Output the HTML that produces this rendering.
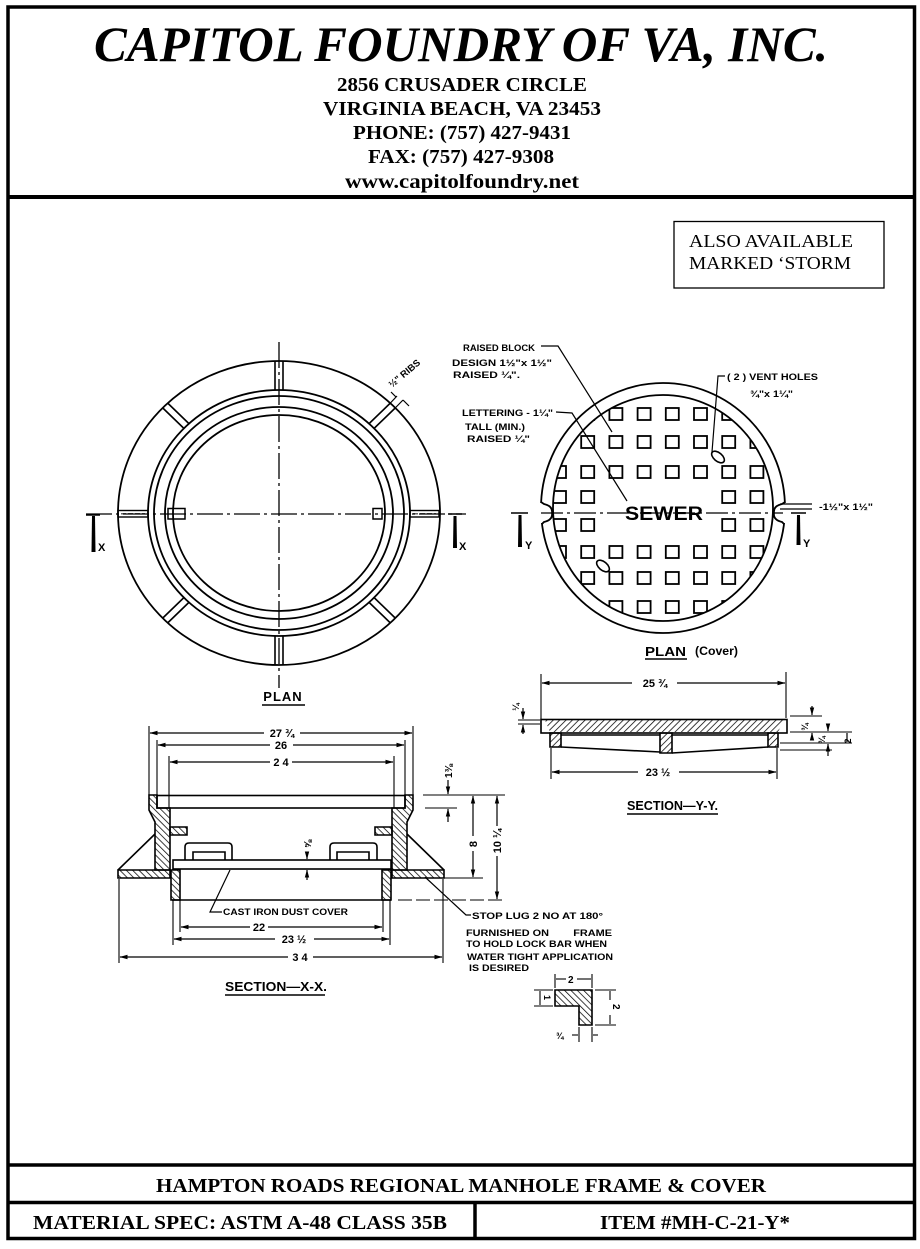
<!DOCTYPE html>
<html><head><meta charset="utf-8">
<style>
html,body{margin:0;padding:0;background:#fff;}
svg{display:block;}
.s{font-family:"Liberation Serif",serif;}
.d{font-family:"Liberation Sans",sans-serif;font-weight:bold;}
</style></head><body>
<svg width="920" height="1249" viewBox="0 0 920 1249" xmlns="http://www.w3.org/2000/svg">
<defs>
<pattern id="hb" patternUnits="userSpaceOnUse" width="4.5" height="4.5" patternTransform="rotate(-45)"><line x1="0" y1="0" x2="0" y2="4.5" stroke="#000" stroke-width="1.5"/></pattern>
<pattern id="hf" patternUnits="userSpaceOnUse" width="4.5" height="4.5" patternTransform="rotate(45)"><line x1="0" y1="0" x2="0" y2="4.5" stroke="#000" stroke-width="1.5"/></pattern>
<marker id="ar" markerWidth="8" markerHeight="6" refX="7.5" refY="3" orient="auto" markerUnits="userSpaceOnUse"><path d="M0,0.8 L8,3 L0,5.2Z" fill="#000"/></marker>
<clipPath id="cc"><ellipse cx="663" cy="508" rx="110" ry="113"/></clipPath>
</defs>

<!-- frame -->
<rect x="8" y="7" width="906.5" height="1231.5" fill="none" stroke="#000" stroke-width="3.5"/>
<line x1="8" y1="197" x2="914.5" y2="197" stroke="#000" stroke-width="4"/>
<line x1="8" y1="1165" x2="914.5" y2="1165" stroke="#000" stroke-width="3.5"/>
<line x1="8" y1="1202.5" x2="914.5" y2="1202.5" stroke="#000" stroke-width="3.5"/>
<line x1="475" y1="1202" x2="475" y2="1238" stroke="#000" stroke-width="3.5"/>

<!-- header -->
<g class="s" fill="#000" text-anchor="middle" font-weight="bold">
<text x="461" y="61" font-size="50" font-style="italic" textLength="734" lengthAdjust="spacingAndGlyphs">CAPITOL FOUNDRY OF VA, INC.</text>
<text x="462" y="91" font-size="20" textLength="250" lengthAdjust="spacingAndGlyphs">2856 CRUSADER CIRCLE</text>
<text x="462" y="115" font-size="20" textLength="278" lengthAdjust="spacingAndGlyphs">VIRGINIA BEACH, VA 23453</text>
<text x="462" y="139" font-size="20" textLength="218" lengthAdjust="spacingAndGlyphs">PHONE: (757) 427-9431</text>
<text x="461" y="163" font-size="20" textLength="186" lengthAdjust="spacingAndGlyphs">FAX: (757) 427-9308</text>
<text x="462" y="188" font-size="20" textLength="234" lengthAdjust="spacingAndGlyphs">www.capitolfoundry.net</text>
</g>

<!-- also available box -->
<rect x="674" y="221.5" width="210" height="66.5" fill="none" stroke="#000" stroke-width="1.3"/>
<g class="s" font-size="18" fill="#000">
<text x="689" y="247" textLength="164" lengthAdjust="spacingAndGlyphs">ALSO AVAILABLE</text>
<text x="689" y="269" textLength="162" lengthAdjust="spacingAndGlyphs">MARKED ‘STORM</text>
</g>

<!-- footer -->
<g class="s" font-weight="bold" fill="#000" text-anchor="middle" font-size="20">
<text x="461" y="1192" textLength="610" lengthAdjust="spacingAndGlyphs">HAMPTON ROADS REGIONAL MANHOLE FRAME &amp; COVER</text>
<text x="240" y="1229" textLength="414" lengthAdjust="spacingAndGlyphs">MATERIAL SPEC:  ASTM A-48 CLASS 35B</text>
<text x="695" y="1229" textLength="190" lengthAdjust="spacingAndGlyphs">ITEM #MH-C-21-Y*</text>
</g>

<!-- ===== LEFT PLAN ===== -->
<g fill="none" stroke="#000" stroke-width="1.8">
<ellipse cx="279" cy="513" rx="161" ry="152"/>
<ellipse cx="279" cy="513" rx="131" ry="123"/>
<ellipse cx="279" cy="513" rx="125" ry="117"/>
<ellipse cx="279" cy="513" rx="114" ry="106"/>
<ellipse cx="279" cy="513" rx="106" ry="98"/>
</g>
<g fill="none" stroke="#000" stroke-width="1.6">
<line x1="369.2" y1="423.5" x2="390.4" y2="403"/><line x1="374" y1="428.5" x2="395.2" y2="408"/>
<line x1="188.8" y1="423.5" x2="167.6" y2="403"/><line x1="184" y1="428.5" x2="162.8" y2="408"/>
<line x1="188.8" y1="602.5" x2="167.6" y2="623"/><line x1="184" y1="597.5" x2="162.8" y2="618"/>
<line x1="369.2" y1="602.5" x2="390.4" y2="623"/><line x1="374" y1="597.5" x2="395.2" y2="618"/>
<line x1="275" y1="361" x2="275" y2="390"/><line x1="283" y1="361" x2="283" y2="390"/>
<line x1="275" y1="636" x2="275" y2="665"/><line x1="283" y1="636" x2="283" y2="665"/>
<rect x="118" y="510.5" width="30" height="6.5" stroke-width="1.4"/>
<rect x="410" y="510.5" width="29" height="6.5" stroke-width="1.4"/>
<rect x="168" y="508.5" width="17" height="10.5" stroke-width="1.5"/>
<rect x="373" y="508.5" width="9" height="10.5" stroke-width="1.5"/>
</g>
<line x1="121" y1="513.8" x2="145" y2="513.8" stroke="#666" stroke-width="1.5" stroke-dasharray="5 2"/>
<line x1="413" y1="513.8" x2="436" y2="513.8" stroke="#666" stroke-width="1.5" stroke-dasharray="5 2"/>
<!-- centerlines -->
<g stroke="#000" stroke-width="1.3" fill="none">
<line x1="86" y1="514" x2="466" y2="514" stroke-dasharray="26 4 3 4"/>
<line x1="279" y1="342" x2="279" y2="688" stroke-dasharray="26 4 3 4"/>
</g>
<!-- X markers -->
<g fill="#000">
<line x1="86" y1="515" x2="100" y2="515" stroke="#000" stroke-width="1.5"/>
<path d="M92,516 L95,516 L95.5,552 L91.5,552Z"/>
<line x1="448" y1="514" x2="462" y2="514" stroke="#000" stroke-width="1.5"/>
<path d="M453.5,516 L456.5,516 L457,548 L453,548Z"/>
</g>
<g class="d" font-size="11" fill="#000">
<text x="98" y="551">X</text>
<text x="459" y="550">X</text>
</g>
<!-- ribs label -->
<g stroke="#000" stroke-width="1.2" fill="none">
<line x1="390.4" y1="403" x2="397" y2="396"/>
<line x1="395.2" y1="408" x2="403" y2="400"/>
<line x1="391" y1="392" x2="396" y2="397"/>
<line x1="403" y1="400" x2="409" y2="406"/>
</g>
<text class="d" font-size="9.5" fill="#000" transform="translate(392,388) rotate(-40)">½" RIBS</text>
<!-- PLAN label -->
<text class="d" x="283" y="701" font-size="13" text-anchor="middle" fill="#000" letter-spacing="1">PLAN</text>
<line x1="262" y1="705" x2="305" y2="705" stroke="#000" stroke-width="1.5"/>

<!-- ===== RIGHT PLAN (COVER) ===== -->
<g fill="none" stroke="#000" stroke-width="1.8">
<ellipse cx="663" cy="508" rx="122" ry="125"/>
<ellipse cx="663" cy="508" rx="110" ry="113"/>
</g>
<!-- notches -->
<rect x="537" y="503" width="10" height="20" fill="#fff"/>
<rect x="779" y="503" width="10" height="20" fill="#fff"/>
<path d="M541,502 L544,504 Q553,506 552,513 Q553,520 544,522 L542,524" fill="none" stroke="#000" stroke-width="1.8"/>
<path d="M785,502 L782,504 Q773,506 774,513 Q773,520 782,522 L784,524" fill="none" stroke="#000" stroke-width="1.8"/>
<!-- squares -->
<g clip-path="url(#cc)" fill="none" stroke="#000" stroke-width="1.8">
<!-- row 408 -->
<rect x="553" y="408" width="13" height="12"/><rect x="581.2" y="408" width="13" height="12"/><rect x="609.4" y="408" width="13" height="12"/><rect x="637.6" y="408" width="13" height="12"/><rect x="665.8" y="408" width="13" height="12"/><rect x="694" y="408" width="13" height="12"/><rect x="722.2" y="408" width="13" height="12"/><rect x="750.4" y="408" width="13" height="12"/>
<!-- row 436 -->
<rect x="553" y="436" width="13" height="12"/><rect x="581.2" y="436" width="13" height="12"/><rect x="609.4" y="436" width="13" height="12"/><rect x="637.6" y="436" width="13" height="12"/><rect x="665.8" y="436" width="13" height="12"/><rect x="694" y="436" width="13" height="12"/><rect x="722.2" y="436" width="13" height="12"/><rect x="750.4" y="436" width="13" height="12"/>
<!-- row 466 -->
<rect x="553" y="466" width="13" height="12"/><rect x="581.2" y="466" width="13" height="12"/><rect x="609.4" y="466" width="13" height="12"/><rect x="637.6" y="466" width="13" height="12"/><rect x="665.8" y="466" width="13" height="12"/><rect x="694" y="466" width="13" height="12"/><rect x="722.2" y="466" width="13" height="12"/><rect x="750.4" y="466" width="13" height="12"/>
<!-- row 491 -->
<rect x="553" y="491" width="13" height="12"/><rect x="581.2" y="491" width="13" height="12"/><rect x="722.2" y="491" width="13" height="12"/><rect x="750.4" y="491" width="13" height="12"/>
<!-- row 519 -->
<rect x="553" y="519" width="13" height="12"/><rect x="581.2" y="519" width="13" height="12"/><rect x="722.2" y="519" width="13" height="12"/><rect x="750.4" y="519" width="13" height="12"/>
<!-- row 546 -->
<rect x="553" y="546" width="13" height="12"/><rect x="581.2" y="546" width="13" height="12"/><rect x="609.4" y="546" width="13" height="12"/><rect x="637.6" y="546" width="13" height="12"/><rect x="665.8" y="546" width="13" height="12"/><rect x="694" y="546" width="13" height="12"/><rect x="722.2" y="546" width="13" height="12"/><rect x="750.4" y="546" width="13" height="12"/>
<!-- row 572 -->
<rect x="553" y="572" width="13" height="12"/><rect x="581.2" y="572" width="13" height="12"/><rect x="609.4" y="572" width="13" height="12"/><rect x="637.6" y="572" width="13" height="12"/><rect x="665.8" y="572" width="13" height="12"/><rect x="694" y="572" width="13" height="12"/><rect x="722.2" y="572" width="13" height="12"/><rect x="750.4" y="572" width="13" height="12"/>
<!-- row 601 -->
<rect x="553" y="601" width="13" height="12"/><rect x="581.2" y="601" width="13" height="12"/><rect x="609.4" y="601" width="13" height="12"/><rect x="637.6" y="601" width="13" height="12"/><rect x="665.8" y="601" width="13" height="12"/><rect x="694" y="601" width="13" height="12"/><rect x="722.2" y="601" width="13" height="12"/><rect x="750.4" y="601" width="13" height="12"/>
</g>
<!-- vent holes -->
<g fill="#fff" stroke="#000" stroke-width="1.6">
<ellipse cx="718" cy="457" rx="7.5" ry="4.2" transform="rotate(40 718 457)"/>
<ellipse cx="603" cy="566" rx="7.5" ry="4.2" transform="rotate(40 603 566)"/>
</g>
<!-- centerline -->
<line x1="541" y1="513" x2="783" y2="513" stroke="#000" stroke-width="1.3" stroke-dasharray="22 4 3 4"/>
<g stroke="#000" stroke-width="1.2"><line x1="780" y1="504" x2="812" y2="504"/><line x1="780" y1="509" x2="812" y2="509"/></g>
<text class="d" x="664" y="520" font-size="19" text-anchor="middle" fill="#000" textLength="78" lengthAdjust="spacingAndGlyphs">SEWER</text>
<!-- Y markers -->
<g fill="#000">
<line x1="511" y1="513" x2="528" y2="513" stroke="#000" stroke-width="1.5"/>
<path d="M518.5,515 L521.5,515 L522,547 L518,547Z"/>
<line x1="791" y1="513" x2="806" y2="513" stroke="#000" stroke-width="1.5"/>
<path d="M797,515 L800,515 L800.5,545 L796.5,545Z"/>
</g>
<g class="d" font-size="11" fill="#000">
<text x="525" y="549">Y</text>
<text x="803" y="547">Y</text>
</g>
<!-- right plan labels -->
<g class="d" font-size="9.5" fill="#000">
<text x="463" y="351" textLength="72" lengthAdjust="spacingAndGlyphs">RAISED BLOCK</text>
<text x="452" y="366" textLength="100" lengthAdjust="spacingAndGlyphs">DESIGN 1½"x 1½"</text>
<text x="453" y="378" textLength="67" lengthAdjust="spacingAndGlyphs">RAISED  ¼".</text>
<text x="727" y="380" textLength="91" lengthAdjust="spacingAndGlyphs">( 2 ) VENT HOLES</text>
<text x="750" y="397" textLength="43" lengthAdjust="spacingAndGlyphs">¾"x 1¼"</text>
<text x="462" y="416" textLength="91" lengthAdjust="spacingAndGlyphs">LETTERING - 1¼"</text>
<text x="465" y="430" textLength="60" lengthAdjust="spacingAndGlyphs">TALL (MIN.)</text>
<text x="467" y="442" textLength="63" lengthAdjust="spacingAndGlyphs">RAISED  ¼"</text>
<text x="819" y="510" textLength="54" lengthAdjust="spacingAndGlyphs">-1½"x 1½"</text>
</g>
<g fill="none" stroke="#000" stroke-width="1.2">
<polyline points="541,346 558,346 612,432"/>
<polyline points="725,376 718,376 712,452"/>
<polyline points="556,412 572,413 627,501"/>
</g>
<text class="d" x="645" y="656" font-size="13" fill="#000" textLength="41" lengthAdjust="spacingAndGlyphs">PLAN</text>
<line x1="645" y1="659" x2="687" y2="659" stroke="#000" stroke-width="1.5"/>
<text class="d" x="695" y="655" font-size="12" fill="#000" font-weight="normal" textLength="43" lengthAdjust="spacingAndGlyphs">(Cover)</text>

<!-- ===== SECTION X-X ===== -->
<!-- extension lines -->
<g stroke="#000" stroke-width="1.1" fill="none">
<line x1="149" y1="726" x2="149" y2="795"/><line x1="413" y1="726" x2="413" y2="795"/>
<line x1="157" y1="740" x2="157" y2="795"/><line x1="405" y1="740" x2="405" y2="795"/>
<line x1="169" y1="756" x2="169" y2="808"/><line x1="394" y1="756" x2="394" y2="808"/>
<line x1="119" y1="879" x2="119" y2="963"/><line x1="443" y1="879" x2="443" y2="963"/>
<line x1="173" y1="900" x2="173" y2="945"/><line x1="390" y1="900" x2="390" y2="945"/>
<line x1="180" y1="900" x2="180" y2="932"/><line x1="383" y1="900" x2="383" y2="932"/>
<line x1="423" y1="795" x2="505" y2="795"/>
<line x1="425" y1="808" x2="457" y2="808"/>
<line x1="443" y1="878" x2="483" y2="878"/>
<line x1="398" y1="900" x2="506" y2="900" stroke-dasharray="14 4"/>
</g>
<!-- dimension lines -->
<g stroke="#000" stroke-width="1.2" marker-end="url(#ar)">
<line x1="264" y1="733" x2="150" y2="733"/><line x1="300" y1="733" x2="412" y2="733"/>
<line x1="270" y1="745" x2="158" y2="745"/><line x1="293" y1="745" x2="404" y2="745"/>
<line x1="270" y1="762" x2="170" y2="762"/><line x1="292" y1="762" x2="393" y2="762"/>
<line x1="250" y1="927" x2="181" y2="927"/><line x1="268" y1="927" x2="382" y2="927"/>
<line x1="275" y1="939" x2="174" y2="939"/><line x1="314" y1="939" x2="389" y2="939"/>
<line x1="288" y1="957" x2="120" y2="957"/><line x1="313" y1="957" x2="442" y2="957"/>
<line x1="473" y1="836" x2="473" y2="796"/><line x1="473" y1="851" x2="473" y2="877"/>
<line x1="497" y1="826" x2="497" y2="796"/><line x1="497" y1="856" x2="497" y2="899"/>
<line x1="448" y1="780" x2="448" y2="794"/><line x1="448" y1="822" x2="448" y2="809"/>
<line x1="307" y1="852" x2="307" y2="859"/><line x1="307" y1="880" x2="307" y2="870"/>
</g>
<g class="d" font-size="11" fill="#000" text-anchor="middle">
<text x="282" y="737">27 ¾</text>
<text x="281" y="749">26</text>
<text x="281" y="766">2 4</text>
<text x="259" y="931">22</text>
<text x="294" y="943">23 ½</text>
<text x="300" y="961">3 4</text>
<text transform="translate(477,844) rotate(-90)">8</text>
<text transform="translate(501,841) rotate(-90)">10 ¼</text>
<text transform="translate(452,771) rotate(-90)" font-size="10">1⅜</text>
<text transform="translate(311,844) rotate(-90)" font-size="10">⅝</text>
</g>
<!-- frame profile left -->
<g stroke="#000" stroke-width="1.6">
<path d="M149,795 L157,795 L157,808 L170,808 L170,870 L155,870 L155,822 L149,810 Z" fill="url(#hb)"/>
<path d="M118,870 L170,870 L170,878 L118,878 Z" fill="url(#hb)"/>
<path d="M171,870 L180,870 L180,900 L171,900 Z" fill="url(#hb)"/>
<path d="M170,827 L187,827 L187,835 L170,835 Z" fill="url(#hb)"/>
<line x1="118" y1="870" x2="155" y2="834" fill="none"/>
</g>
<!-- frame profile right (mirrored) -->
<g stroke="#000" stroke-width="1.6" transform="translate(562,0) scale(-1,1)">
<path d="M149,795 L157,795 L157,808 L170,808 L170,870 L155,870 L155,822 L149,810 Z" fill="url(#hf)"/>
<path d="M118,870 L170,870 L170,878 L118,878 Z" fill="url(#hf)"/>
<path d="M171,870 L180,870 L180,900 L171,900 Z" fill="url(#hf)"/>
<path d="M170,827 L187,827 L187,835 L170,835 Z" fill="url(#hf)"/>
<line x1="118" y1="870" x2="155" y2="834" fill="none"/>
</g>
<!-- cover, dust cover, handles -->
<g fill="none" stroke="#000" stroke-width="1.6">
<rect x="157" y="795.5" width="248" height="12.5"/>
<rect x="173" y="860" width="218" height="9"/>
<line x1="172" y1="900" x2="391" y2="900"/>
<path d="M185,860 L185,847 Q185,843 189,843 L228,843 Q232,843 232,847 L232,860"/>
<path d="M193,860 L193,852 L225,852 L225,860"/>
<path d="M330,860 L330,847 Q330,843 334,843 L373,843 Q377,843 377,847 L377,860"/>
<path d="M337,860 L337,852 L369,852 L369,860"/>
</g>
<g fill="none" stroke="#000" stroke-width="1.2">
<polyline points="222,912 210,912 230,870"/>
<polyline points="425,877 466,915 471,915"/>
</g>
<g class="d" font-size="9.5" fill="#000">
<text x="223" y="915" textLength="125" lengthAdjust="spacingAndGlyphs">CAST IRON DUST COVER</text>
<text x="472" y="919" textLength="131" lengthAdjust="spacingAndGlyphs">STOP LUG 2 NO AT 180°</text>
<text x="466" y="936" textLength="146" lengthAdjust="spacingAndGlyphs" xml:space="preserve">FURNISHED ON        FRAME</text>
<text x="466" y="947" textLength="141" lengthAdjust="spacingAndGlyphs">TO HOLD LOCK BAR WHEN</text>
<text x="467" y="960" textLength="146" lengthAdjust="spacingAndGlyphs">WATER TIGHT APPLICATION</text>
<text x="469" y="971" textLength="60" lengthAdjust="spacingAndGlyphs">IS DESIRED</text>
</g>
<text class="d" x="225" y="991" font-size="12.5" fill="#000" font-weight="normal" textLength="102" lengthAdjust="spacingAndGlyphs">SECTION—X-X.</text>
<line x1="225" y1="995" x2="325" y2="995" stroke="#000" stroke-width="1.5"/>

<!-- detail L -->
<path d="M555,990 L592,990 L592,1025 L579,1025 L579,1006 L555,1006 Z" fill="url(#hb)" stroke="#000" stroke-width="1.6"/>
<g stroke="#000" stroke-width="1.1" fill="none">
<line x1="555" y1="974" x2="555" y2="988"/><line x1="592" y1="974" x2="592" y2="988"/>
<line x1="556" y1="979" x2="566" y2="979"/><line x1="577" y1="979" x2="591" y2="979"/>
<line x1="534" y1="990" x2="553" y2="990"/><line x1="534" y1="1006" x2="553" y2="1006"/>
<line x1="540" y1="991" x2="540" y2="1005"/>
<line x1="595" y1="990" x2="616" y2="990"/><line x1="595" y1="1025" x2="616" y2="1025"/>
<line x1="610" y1="991" x2="610" y2="1000"/><line x1="610" y1="1015" x2="610" y2="1024"/>
<line x1="579" y1="1027" x2="579" y2="1042"/><line x1="592" y1="1027" x2="592" y2="1042"/>
<line x1="572" y1="1035" x2="578" y2="1035"/><line x1="593" y1="1035" x2="598" y2="1035"/>
</g>
<g class="d" font-size="10" fill="#000">
<text x="568" y="983">2</text>
<text x="556" y="1039" font-size="9">¾</text>
<text transform="translate(613,1004) rotate(90)" font-size="10">2</text>
<text transform="translate(544,995) rotate(90)" font-size="9">1</text>
</g>

<!-- ===== SECTION Y-Y ===== -->
<g stroke="#000" stroke-width="1.1" fill="none">
<line x1="541" y1="674" x2="541" y2="733"/><line x1="786" y1="672" x2="786" y2="718"/>
<line x1="551" y1="748" x2="551" y2="779"/><line x1="777" y1="748" x2="777" y2="779"/>
<line x1="790" y1="716" x2="822" y2="716"/>
<line x1="790" y1="732" x2="852" y2="732"/>
<line x1="780" y1="743" x2="852" y2="743"/>
<line x1="780" y1="750" x2="832" y2="750"/>
<line x1="518" y1="720" x2="540" y2="720"/><line x1="518" y1="724" x2="540" y2="724"/>
</g>
<g stroke="#000" stroke-width="1.2" marker-end="url(#ar)">
<line x1="632" y1="683" x2="542" y2="683"/><line x1="677" y1="683" x2="785" y2="683"/>
<line x1="638" y1="772" x2="552" y2="772"/><line x1="679" y1="772" x2="776" y2="772"/>
<line x1="523" y1="708" x2="523" y2="719"/><line x1="523" y1="734" x2="523" y2="725"/>
<line x1="812" y1="706" x2="812" y2="715"/><line x1="812" y1="740" x2="812" y2="733"/>
<line x1="828" y1="724" x2="828" y2="731"/><line x1="828" y1="756" x2="828" y2="744"/>
<line x1="847" y1="733" x2="847" y2="742" marker-end="none"/>
</g>
<g class="d" font-size="11" fill="#000" text-anchor="middle">
<text x="655" y="687">25 ¾</text>
<text x="658" y="776">23 ½</text>
<text transform="translate(519,707) rotate(-90)" font-size="9">¼</text>
<text transform="translate(808,727) rotate(-90)" font-size="9">¾</text>
<text transform="translate(825,740) rotate(-90)" font-size="9">¾</text>
<text transform="translate(851,741) rotate(-90)" font-size="9">2</text>
</g>
<g stroke="#000" stroke-width="1.6">
<rect x="541" y="719.5" width="246" height="13.5" fill="none"/>
<path d="M545,720 L784,720 L778,732 L550,732 Z" fill="url(#hf)" stroke="none"/>
<path d="M550,733 L561,733 L561,747 L550,747 Z" fill="url(#hf)"/>
<path d="M660,733 L672,733 L672,753 L660,753 Z" fill="url(#hf)"/>
<path d="M768,733 L778,733 L778,747 L768,747 Z" fill="url(#hf)"/>
<g fill="none">
<line x1="561" y1="735" x2="660" y2="735"/>
<line x1="672" y1="735" x2="768" y2="735"/>
<line x1="561" y1="747" x2="660" y2="752"/>
<line x1="672" y1="753" x2="768" y2="747"/>
</g>
</g>
<text class="d" x="627" y="810" font-size="12.5" fill="#000" font-weight="normal" textLength="91" lengthAdjust="spacingAndGlyphs">SECTION—Y-Y.</text>
<line x1="627" y1="814" x2="718" y2="814" stroke="#000" stroke-width="1.5"/>
</svg>
</body></html>
